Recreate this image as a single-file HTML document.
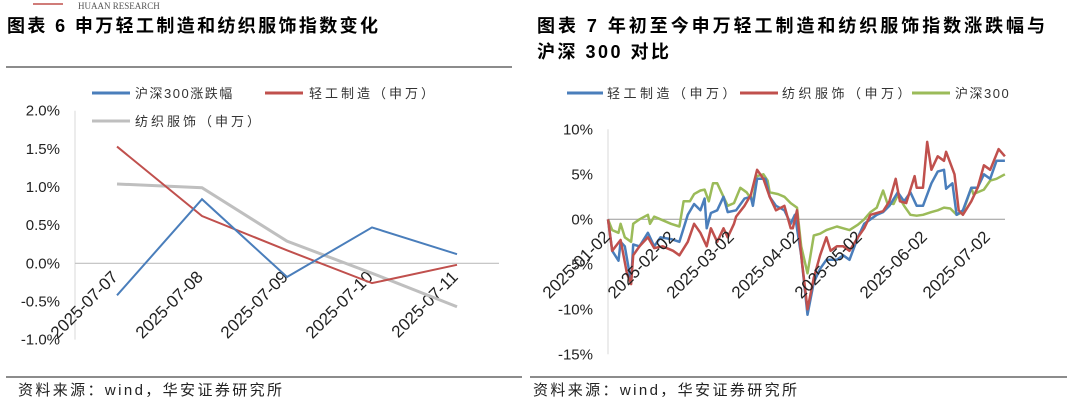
<!DOCTYPE html>
<html><head><meta charset="utf-8">
<style>
body{margin:0;background:#fff;width:1067px;height:403px;overflow:hidden;font-family:"Liberation Sans","Noto Sans CJK SC",sans-serif;}
svg{position:absolute;left:0;top:0}
</style></head><body>
<svg width="1067" height="403">
<g id="static">
<line x1="33" y1="4" x2="63" y2="4" stroke="#c0504d" stroke-width="1.5"/>
<text x="78" y="9" font-size="9" font-family="Liberation Serif,serif" fill="#555">HUAAN RESEARCH</text>
<text x="7" y="32" font-size="18" font-weight="bold" textLength="371" lengthAdjust="spacing">图表 6 申万轻工制造和纺织服饰指数变化</text>
<text x="537" y="32" font-size="18" font-weight="bold" textLength="508" lengthAdjust="spacing">图表 7 年初至今申万轻工制造和纺织服饰指数涨跌幅与</text>
<text x="537" y="58" font-size="18" font-weight="bold" textLength="132" lengthAdjust="spacing">沪深 300 对比</text>
<line x1="6" y1="67" x2="512" y2="67" stroke="#666" stroke-width="1.5"/>
<line x1="6" y1="377" x2="522" y2="377" stroke="#666" stroke-width="1.5"/>
<line x1="530" y1="377" x2="1067" y2="377" stroke="#666" stroke-width="1.5"/>
<text x="18" y="395" font-size="15" fill="#222" textLength="264" lengthAdjust="spacing">资料来源：wind，华安证券研究所</text>
<text x="533" y="395" font-size="15" fill="#222" textLength="264" lengthAdjust="spacing">资料来源：wind，华安证券研究所</text>
<line x1="92" y1="93" x2="130" y2="93" stroke="#4a7ebb" stroke-width="3"/>
<text x="135" y="98" font-size="13" letter-spacing="1.5" fill="#333">沪深300涨跌幅</text>
<line x1="265" y1="93" x2="303" y2="93" stroke="#c0504d" stroke-width="3"/>
<text x="309" y="98" font-size="13" letter-spacing="3" fill="#333">轻工制造（申万）</text>
<line x1="92" y1="121" x2="130" y2="121" stroke="#bfbfbf" stroke-width="3"/>
<text x="135" y="126" font-size="13" letter-spacing="3" fill="#333">纺织服饰（申万）</text>
<line x1="567" y1="93" x2="603" y2="93" stroke="#4a7ebb" stroke-width="3"/>
<text x="607" y="98" font-size="13" letter-spacing="3.5" fill="#333">轻工制造（申万）</text>
<line x1="740" y1="93" x2="778" y2="93" stroke="#c0504d" stroke-width="3"/>
<text x="782" y="98" font-size="13" letter-spacing="3.5" fill="#333">纺织服饰（申万）</text>
<line x1="912" y1="93" x2="950" y2="93" stroke="#9bbb59" stroke-width="3"/>
<text x="955" y="98" font-size="13" letter-spacing="1.5" fill="#333">沪深300</text>
</g>
<g id="left"></g>
<g id="right"></g>
</svg>
<script>
// ---- left chart data ----
const leftCats = ["2025-07-07","2025-07-08","2025-07-09","2025-07-10","2025-07-11"];
const leftCsi = [-0.42, 0.84, -0.18, 0.47, 0.12];
const leftLight = [1.53, 0.62, 0.17, -0.26, -0.02];
const leftTextile = [1.04, 0.99, 0.29, -0.13, -0.57];
const leftTicks = [2.0, 1.5, 1.0, 0.5, 0.0, -0.5, -1.0];
// ---- right chart data: [dayIndex, value%] ----
const rightMonthLabels = ["2025-01-02","2025-02-02","2025-03-02","2025-04-02","2025-05-02","2025-06-02","2025-07-02"];
const rightMonthDays = [0, 31, 59, 90, 120, 151, 181];
const rightTicks = [10, 5, 0, -5, -10, -15];
const rightLight = [[0,0],[2,-3.5],[5,-4.6],[6,-2.5],[8,-3],[11,-7],[12,-2.8],[15,-3],[19,-1.5],[22,-3],[25,-2],[30,-2.2],[34,-2.5],[38,0.5],[41,1.7],[44,1],[46,2.3],[47,-1],[49,0.7],[52,1],[55,2.5],[57,0.8],[61,1],[65,2.3],[68,2.5],[69,1.5],[71,4.5],[75,4.5],[77,2.5],[80,1.5],[84,1],[87,-0.5],[89,0.5],[92,-4],[95,-10.6],[98,-7],[101,-5.5],[104,-4.5],[109,-4.5],[112,-4],[115,-4.5],[119,-2],[122,-0.5],[125,0],[128,0.5],[131,0.8],[134,1.5],[138,3],[141,2],[144,3],[147,1.5],[150,1.5],[154,4],[157,5.3],[160,5.5],[161,3.4],[164,4],[166,0.5],[169,1],[173,3.5],[176,3.5],[179,5],[182,4.5],[185,6.5],[189,6.5]];
const rightTextile = [[0,0],[2,-3.5],[6,-2.3],[9,-6],[11,-7.2],[12,-4],[15,-3],[19,-2],[22,-3.2],[26,-3],[31,-3.5],[34,-4],[38,-2.5],[41,-0.5],[44,-1.5],[47,-3],[49,-1],[52,-2.5],[55,-1],[57,-2],[60,-0.5],[61,0.3],[65,1.5],[68,2.7],[71,5.5],[74,4.5],[77,2.5],[80,1],[84,1.5],[87,-1],[88,-1],[90,1],[92,-4],[95,-10],[98,-6.5],[101,-4],[104,-2],[106,-3.5],[109,-3],[112,-3],[115,-3.5],[119,-2],[122,-1],[125,0.5],[131,0.9],[134,2],[137,4.5],[139,2],[142,1.8],[146,4.8],[147,3.5],[150,3.5],[152,8.6],[154,5.5],[157,7],[160,6.5],[161,7.5],[165,5],[167,1],[169,0.5],[173,2],[176,3.5],[179,6],[182,5.5],[186,7.8],[189,7]];
const rightCsi = [[0,0],[2,-1.2],[5,-1.5],[6,-0.5],[8,-2],[11,-2.5],[12,-0.5],[15,0],[19,0.5],[20,-0.5],[22,0.3],[25,0],[30,-0.5],[34,-0.8],[36,2],[39,2],[41,2.8],[44,3.2],[46,3.3],[48,2],[50,4],[52,4],[54,3],[57,1.5],[60,1.8],[63,3.5],[66,3],[69,2],[71,4.8],[74,5],[76,4.3],[77,3],[81,2.8],[84,2.5],[87,1.8],[90,1.3],[92,-3],[95,-6],[98,-1.8],[101,-1.6],[104,-1.2],[109,-0.8],[112,-1],[115,-1.2],[119,-0.6],[122,0],[125,0.8],[128,1.3],[131,3.2],[133,1.8],[136,1.7],[138,2.7],[141,1.5],[144,0.5],[147,0.4],[150,0.5],[154,0.8],[157,1],[160,1.3],[163,1.2],[166,0.5],[169,0.8],[173,3.5],[174,2.8],[179,3.3],[182,4.3],[185,4.5],[189,5]];

const NS="http://www.w3.org/2000/svg";
function mk(tag,attrs,parent){const e=document.createElementNS(NS,tag);for(const k in attrs)e.setAttribute(k,attrs[k]);parent.appendChild(e);return e;}

const L=document.getElementById('left');
const lx=i=>117+i*85;
const ly=v=>263.3-v*76.3;
mk('line',{x1:75,y1:ly(2),x2:75,y2:ly(-1),stroke:'#d9d9d9','stroke-width':1},L);
mk('line',{x1:75,y1:ly(0),x2:499,y2:ly(0),stroke:'#bfbfbf','stroke-width':1.2},L);
leftTicks.forEach(t=>{const e=mk('text',{x:60,y:ly(t)+5,'font-size':15,'text-anchor':'end',fill:'#222'},L);e.textContent=t.toFixed(1)+'%';

});
leftCats.forEach((c,i)=>{const x=lx(i)+2,y=278;const e=mk('text',{x:x,y:y,'font-size':17,'text-anchor':'end',fill:'#222',transform:`rotate(-45 ${x} ${y})`},L);e.textContent=c;

});
function lline(arr,color,w,name){const p=mk('polyline',{points:arr.map((v,i)=>lx(i)+','+ly(v)).join(' '),fill:'none',stroke:color,'stroke-width':w},L);

}
lline(leftTextile,'#bfbfbf',3,'line-textile');
lline(leftLight,'#c0504d',2,'line-light-industry');
lline(leftCsi,'#4a7ebb',2,'line-csi300');

const R=document.getElementById('right');
const rx=d=>608+d*2.1;
const ry=v=>219.3-v*9;
mk('line',{x1:608,y1:ry(10),x2:608,y2:ry(-15),stroke:'#d9d9d9','stroke-width':1},R);
mk('line',{x1:608,y1:ry(0),x2:1005,y2:ry(0),stroke:'#999','stroke-width':1},R);
rightTicks.forEach(t=>{const e=mk('text',{x:593,y:ry(t)+5,'font-size':15,'text-anchor':'end',fill:'#222'},R);e.textContent=t+'%';

});
function rline(arr,color,name){const p=mk('polyline',{points:arr.map(a=>rx(a[0]).toFixed(1)+','+ry(a[1]).toFixed(1)).join(' '),fill:'none',stroke:color,'stroke-width':2.5,'stroke-linejoin':'round'},R);

}
rline(rightCsi,'#9bbb59','line-r-csi300');
rline(rightLight,'#4a7ebb','line-r-light-industry');
rline(rightTextile,'#c0504d','line-r-textile');
rightMonthLabels.forEach((c,i)=>{const x=rx(rightMonthDays[i])+3,y=238;const e=mk('text',{x:x,y:y,'font-size':17,'text-anchor':'end',fill:'#222',transform:`rotate(-45 ${x} ${y})`},R);e.textContent=c;

});
</script>
</body></html>
